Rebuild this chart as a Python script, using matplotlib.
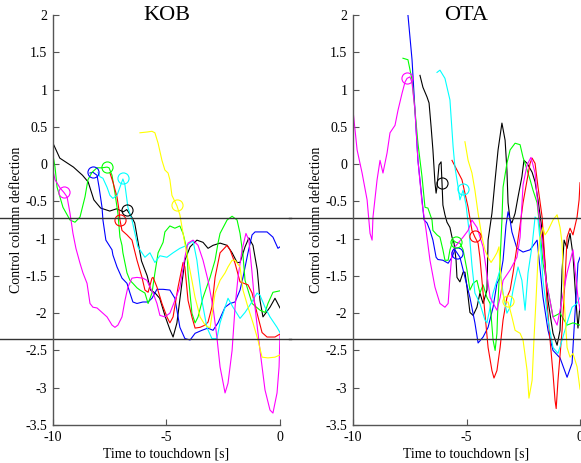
import matplotlib
matplotlib.use('Agg')
import matplotlib.pyplot as plt

plt.rcParams['font.family'] = ['Liberation Serif', 'DejaVu Serif']
plt.rcParams['axes.unicode_minus'] = False

# colour order of the runs
run_colors = ['#000000', '#0000ff', '#00ff00', '#ff0000', '#00ffff', '#ff00ff', '#ffff00']

# ---- KOB runs: (time to touchdown [s], deflection)
kob_black = [(-10, 0.28), (-9.7, 0.08), (-9.4, 0.02), (-9.1, -0.04), (-8.7, -0.15), (-8.45, -0.24),
             (-8.2, -0.48), (-7.9, -0.59), (-7.5, -0.63), (-7.2, -0.6), (-6.9, -0.64), (-6.75, -0.61),
             (-6.55, -0.7), (-6.4, -0.79), (-6.25, -1.05), (-6.1, -1.3), (-5.85, -1.5), (-5.7, -1.69),
             (-5.5, -1.73), (-5.3, -1.8), (-5.05, -2.05), (-4.85, -2.22), (-4.71, -2.32), (-4.54, -2.13),
             (-4.4, -1.79), (-4.19, -1.29), (-3.96, -1.11), (-3.66, -1.02), (-3.39, -1.05), (-3.17, -1.13),
             (-2.95, -1.09), (-2.64, -1.06), (-2.33, -1.09), (-2.11, -1.19), (-1.89, -1.32), (-1.76, -1.32),
             (-1.54, -1.11), (-1.37, -0.99), (-1.19, -1.09), (-1.0, -1.42), (-0.88, -1.83), (-0.75, -2.05),
             (-0.44, -1.92), (-0.22, -1.8), (0, -1.93)]
kob_blue = [(-8.37, -0.12), (-8.24, -0.11), (-8.06, -0.15), (-7.97, -0.31), (-7.84, -0.58), (-7.8, -0.75),
            (-7.67, -1.02), (-7.4, -1.15), (-7.36, -1.22), (-7.18, -1.38), (-6.96, -1.53), (-6.74, -1.6),
            (-6.61, -1.73), (-6.48, -1.85), (-6.3, -1.87), (-6.04, -1.85), (-5.81, -1.85), (-5.64, -1.8),
            (-5.42, -1.68), (-5.15, -1.68), (-4.85, -1.69), (-4.63, -1.8), (-4.54, -1.96), (-4.41, -2.19),
            (-4.19, -2.34), (-3.96, -2.36), (-3.74, -2.27), (-3.44, -2.23), (-3.17, -2.2), (-2.95, -2.23),
            (-2.73, -2.13), (-2.42, -1.92), (-2.2, -1.87), (-1.98, -1.85), (-1.76, -1.69), (-1.63, -1.52),
            (-1.41, -1.19), (-1.23, -0.95), (-1.1, -0.91), (-0.57, -0.91), (-0.31, -0.98), (-0.09, -1.13),
            (0, -1.11)]
kob_green = [(-10, 0.12), (-9.91, -0.04), (-9.82, -0.31), (-9.56, -0.58), (-9.25, -0.75), (-9.03, -0.78),
             (-8.81, -0.71), (-8.59, -0.44), (-8.46, -0.21), (-8.28, -0.11), (-8.06, -0.05), (-7.84, -0.05),
             (-7.62, -0.04), (-7.53, -0.05), (-7.4, -0.15), (-7.27, -0.39), (-7.14, -0.66), (-7.05, -0.98),
             (-6.96, -1.09), (-6.92, -1.19), (-6.74, -1.46), (-6.61, -1.56), (-6.48, -1.6), (-6.3, -1.66),
             (-6.17, -1.69), (-5.95, -1.73), (-5.81, -1.87), (-5.64, -1.73), (-5.51, -1.46), (-5.37, -1.19),
             (-5.15, -1.05), (-5.07, -0.91), (-4.85, -0.83), (-4.63, -0.86), (-4.41, -0.83), (-4.27, -0.93),
             (-4.1, -1.15), (-4.05, -1.46), (-3.88, -2.0), (-3.74, -2.13), (-3.61, -2.05), (-3.39, -1.79),
             (-3.08, -1.52), (-2.86, -1.29), (-2.73, -1.06), (-2.64, -0.93), (-2.33, -0.75), (-2.11, -0.7),
             (-1.89, -0.75), (-1.76, -0.93), (-1.63, -1.22), (-1.54, -1.56), (-1.23, -1.87), (-0.88, -1.96),
             (-0.66, -1.99), (-0.53, -1.87), (-0.31, -1.72), (0, -1.7)]
kob_red = [(-7.49, -0.12), (-7.36, -0.24), (-7.18, -0.44), (-7.09, -0.62), (-7.05, -0.75), (-6.96, -0.89),
           (-6.74, -0.95), (-6.52, -1.02), (-6.3, -1.29), (-6.08, -1.52), (-5.95, -1.69), (-5.81, -1.72),
           (-5.64, -1.53), (-5.59, -1.52), (-5.42, -1.65), (-5.2, -1.87), (-4.98, -2.05), (-4.85, -2.13),
           (-4.71, -2.05), (-4.49, -1.65), (-4.27, -1.32), (-4.19, -1.38), (-4.05, -1.83), (-3.88, -2.05),
           (-3.74, -2.2), (-3.52, -2.19), (-3.3, -2.16), (-3.17, -2.12), (-3.0, -1.92), (-2.86, -1.52),
           (-2.64, -1.19), (-2.33, -1.09), (-2.2, -1.15), (-1.98, -1.33), (-1.76, -1.58), (-1.41, -1.62),
           (-1.23, -1.73), (-1.01, -2.0), (-0.79, -2.26), (-0.57, -2.32), (-0.22, -2.32), (0, -2.28)]
kob_cyan = [(-8.02, -0.11), (-7.93, -0.17), (-7.8, -0.19), (-7.62, -0.31), (-7.49, -0.42), (-7.36, -0.46),
            (-7.18, -0.42), (-7.05, -0.31), (-6.92, -0.2), (-6.83, -0.28), (-6.7, -0.58), (-6.52, -0.75),
            (-6.39, -0.93), (-6.26, -1.11), (-6.17, -1.15), (-5.95, -1.25), (-5.73, -1.19), (-5.51, -1.32),
            (-5.29, -1.23), (-4.98, -1.25), (-4.71, -1.19), (-4.41, -1.13), (-4.1, -1.09), (-3.83, -1.03),
            (-3.66, -1.29), (-3.44, -1.83), (-3.22, -2.19), (-3.0, -2.34), (-2.78, -2.34), (-2.64, -2.13),
            (-2.42, -1.92), (-2.29, -1.8), (-2.07, -1.92), (-1.76, -2.07), (-1.54, -1.99), (-1.32, -1.89),
            (-1.01, -1.73), (-0.88, -1.76), (-0.66, -1.92), (-0.44, -2.05), (-0.13, -2.19), (0, -2.26)]
kob_magenta = [(-10, -0.09), (-9.91, -0.21), (-9.69, -0.32), (-9.52, -0.38), (-9.38, -0.44), (-9.25, -0.66),
               (-9.12, -0.93), (-8.99, -1.13), (-8.81, -1.33), (-8.68, -1.46), (-8.5, -1.6), (-8.37, -1.87),
               (-8.24, -1.92), (-8.06, -1.93), (-7.84, -1.99), (-7.62, -2.05), (-7.4, -2.16), (-7.27, -2.19),
               (-7.14, -2.16), (-6.96, -2.05), (-6.83, -1.83), (-6.7, -1.65), (-6.52, -1.53), (-6.3, -1.52),
               (-6.04, -1.53), (-5.86, -1.56), (-5.73, -1.65), (-5.59, -1.73), (-5.42, -1.87), (-5.29, -2.03),
               (-5.07, -2.05), (-4.85, -2.0), (-4.63, -1.83), (-4.41, -1.65), (-4.19, -1.25), (-4.05, -1.06),
               (-3.83, -1.02), (-3.61, -1.09), (-3.39, -1.29), (-3.17, -1.56), (-2.95, -1.92), (-2.78, -2.32),
               (-2.64, -2.72), (-2.42, -3.07), (-2.29, -2.94), (-2.11, -2.5), (-1.98, -1.92), (-1.85, -1.52),
               (-1.67, -1.15), (-1.5, -0.93), (-1.37, -1.02), (-1.23, -1.46), (-1.1, -1.92), (-0.88, -2.5),
               (-0.66, -3.03), (-0.44, -3.3), (-0.31, -3.34), (-0.13, -3.07), (-0.04, -2.72), (0, -2.3)]
kob_yellow = [(-6.17, 0.42), (-5.86, 0.43), (-5.64, 0.44), (-5.51, 0.42), (-5.37, 0.28), (-5.2, 0.05),
              (-5.07, -0.08), (-4.93, -0.12), (-4.85, -0.21), (-4.76, -0.42), (-4.54, -0.56), (-4.41, -0.68),
              (-4.27, -0.93), (-4.14, -1.15), (-4.05, -1.29), (-3.88, -1.56), (-3.74, -1.79), (-3.52, -2.05),
              (-3.3, -2.16), (-3.08, -2.2), (-2.86, -1.73), (-2.64, -1.56), (-2.42, -1.46), (-2.29, -1.38),
              (-2.11, -1.29), (-1.98, -1.29), (-1.76, -1.38), (-1.63, -1.69), (-1.41, -1.92), (-1.19, -2.13),
              (-0.97, -2.36), (-0.79, -2.59), (-0.53, -2.6), (-0.22, -2.59), (0, -2.56)]
kob_circle_t = [-6.75, -8.24, -7.62, -7.05, -6.92, -9.52, -4.54]
kob_circle_v = [-0.61, -0.11, -0.04, -0.75, -0.19, -0.37, -0.55]

# ---- OTA runs
ota_black = [(-7.05, 1.19), (-6.92, 1.03), (-6.74, 0.9), (-6.65, 0.82), (-6.56, 0.5), (-6.48, 0.19),
             (-6.39, -0.25), (-6.34, -0.39), (-6.3, -0.31), (-6.21, -0.01), (-6.12, 0.03), (-6.08, -0.25),
             (-6.04, -0.55), (-5.95, -0.68), (-5.86, -0.78), (-5.73, -0.85), (-5.64, -0.98), (-5.55, -1.06),
             (-5.46, -1.29), (-5.42, -1.52), (-5.29, -1.58), (-5.15, -1.45), (-5.07, -1.45), (-4.98, -1.65),
             (-4.85, -1.99), (-4.71, -2.03), (-4.54, -1.92), (-4.41, -1.73), (-4.27, -1.87), (-4.1, -1.69),
             (-4.05, -1.02), (-3.88, -0.66), (-3.74, -0.21), (-3.61, 0.19), (-3.44, 0.55), (-3.3, 0.32),
             (-3.22, -0.08), (-3.17, -0.52), (-3.08, -0.75), (-3.0, -0.79), (-2.86, -0.66), (-2.73, -0.44),
             (-2.56, -0.17), (-2.47, 0.05), (-2.33, 0.01), (-2.11, -0.11), (-1.98, -0.24), (-1.85, -0.48),
             (-1.67, -0.89), (-1.41, -1.83), (-1.19, -2.27), (-1.01, -2.43), (-0.88, -2.23), (-0.79, -1.42),
             (-0.7, -1.02), (-0.57, -1.13), (-0.44, -0.93), (-0.31, -1.22), (-0.18, -1.83), (-0.09, -2.2),
             (0, -1.89)]
ota_blue = [(-7.58, 2.0), (-7.4, 1.4), (-7.27, 0.72), (-7.14, 0.05), (-6.96, -0.48), (-6.87, -0.75),
            (-6.74, -0.79), (-6.61, -0.89), (-6.48, -1.02), (-6.34, -1.25), (-6.26, -1.28), (-6.04, -1.29),
            (-5.81, -1.33), (-5.64, -1.25), (-5.51, -1.15), (-5.42, -1.19), (-5.29, -1.25), (-5.15, -1.42),
            (-4.85, -1.79), (-4.63, -2.13), (-4.49, -2.4), (-4.27, -2.32), (-4.05, -2.19), (-3.83, -1.92),
            (-3.66, -1.6), (-3.52, -1.52), (-3.39, -1.29), (-3.26, -0.82), (-3.17, -0.64), (-3.08, -0.75),
            (-3.0, -0.91), (-2.78, -1.13), (-2.51, -1.18), (-2.2, -1.15), (-1.89, -1.02), (-1.63, -1.79),
            (-1.41, -2.23), (-1.19, -2.5), (-0.88, -2.6), (-0.57, -2.86), (-0.35, -2.67), (-0.22, -2.0),
            (-0.09, -1.33), (0, -1.25)]
ota_green = [(-7.8, 1.42), (-7.58, 1.4), (-7.4, 1.13), (-7.27, 0.72), (-7.14, 0.28), (-6.96, -0.17),
             (-6.83, -0.58), (-6.7, -0.59), (-6.52, -0.75), (-6.48, -0.89), (-6.3, -0.95), (-6.17, -0.98),
             (-6.04, -1.15), (-5.95, -1.29), (-5.81, -1.29), (-5.73, -1.15), (-5.59, -1.02), (-5.46, -1.05),
             (-5.29, -1.06), (-5.15, -1.15), (-4.98, -1.42), (-4.85, -1.69), (-4.71, -1.6), (-4.54, -1.56),
             (-4.41, -1.73), (-4.27, -1.62), (-4.1, -1.79), (-3.96, -1.87), (-3.83, -2.36), (-3.74, -2.5),
             (-3.66, -2.27), (-3.61, -1.83), (-3.52, -1.29), (-3.44, -0.75), (-3.39, -0.31), (-3.22, 0.01),
             (-3.08, 0.19), (-2.86, 0.28), (-2.64, 0.26), (-2.51, 0.09), (-2.33, -0.08), (-2.2, -0.21),
             (-2.07, -0.35), (-1.89, -0.52), (-1.76, -0.89), (-1.63, -1.33), (-1.41, -1.69), (-1.19, -2.05),
             (-0.88, -2.0), (-0.57, -2.16), (-0.31, -2.13), (0, -2.16)]
ota_red = [(-5.64, 0.05), (-5.42, -0.08), (-5.2, -0.21), (-5.07, -0.39), (-4.93, -0.58), (-4.76, -0.89),
           (-4.63, -0.98), (-4.49, -1.06), (-4.41, -1.25), (-4.32, -1.56), (-4.19, -2.0), (-4.05, -2.46),
           (-3.88, -2.77), (-3.79, -2.87), (-3.66, -2.77), (-3.52, -2.46), (-3.39, -2.09), (-3.22, -1.79),
           (-3.08, -1.69), (-2.95, -1.46), (-2.78, -1.11), (-2.64, -0.82), (-2.51, -0.52), (-2.33, -0.21),
           (-2.2, 0.01), (-2.11, 0.08), (-1.98, 0.01), (-1.85, -0.31), (-1.67, -0.71), (-1.54, -1.33),
           (-1.45, -1.87), (-1.32, -2.36), (-1.19, -2.81), (-1.1, -3.17), (-1.05, -3.28), (-0.97, -2.9),
           (-0.79, -2.23), (-0.66, -1.56), (-0.57, -0.98), (-0.44, -0.86), (-0.31, -0.95), (-0.13, -0.71),
           (-0.04, -0.48), (0, -0.25)]
ota_cyan = [(-6.3, 1.23), (-6.17, 1.26), (-5.95, 1.15), (-5.73, 0.86), (-5.59, 0.23), (-5.51, -0.04),
            (-5.37, -0.31), (-5.29, -0.48), (-5.15, -0.35), (-5.02, -0.55), (-4.89, -0.89), (-4.76, -1.36),
            (-4.63, -1.73), (-4.41, -1.87), (-4.19, -2.09), (-4.1, -2.13), (-3.96, -1.92), (-3.83, -1.73),
            (-3.52, -1.42), (-3.39, -1.73), (-3.22, -2.0), (-3.08, -1.92), (-2.95, -1.69), (-2.73, -1.38),
            (-2.56, -1.56), (-2.42, -1.96), (-2.29, -1.46), (-2.11, -1.09), (-1.98, -0.71), (-1.85, -0.75),
            (-1.76, -1.02), (-1.63, -1.56), (-1.41, -2.09), (-1.19, -2.46), (-0.97, -2.54), (-0.79, -2.36),
            (-0.57, -2.13), (-0.35, -1.92), (-0.13, -1.87), (0, -1.79)]
ota_magenta = [(-10, 0.72), (-9.82, 0.19), (-9.6, -0.12), (-9.38, -0.48), (-9.25, -0.93), (-9.16, -1.02),
               (-9.12, -0.71), (-8.94, -0.21), (-8.81, 0.05), (-8.68, -0.12), (-8.5, 0.15), (-8.37, 0.42),
               (-8.15, 0.52), (-8.02, 0.72), (-7.84, 0.95), (-7.71, 1.1), (-7.62, 1.15), (-7.49, 1.17),
               (-7.4, 1.09), (-7.27, 0.72), (-7.14, 0.05), (-6.96, -0.52), (-6.78, -0.89), (-6.61, -1.29),
               (-6.39, -1.65), (-6.17, -1.87), (-5.95, -1.92), (-5.81, -1.87), (-5.73, -1.52), (-5.64, -1.19),
               (-5.51, -1.11), (-5.15, -0.98), (-4.93, -0.89), (-4.76, -0.75), (-4.54, -0.85), (-4.27, -1.11),
               (-3.96, -1.79), (-3.66, -1.96), (-3.52, -1.79), (-3.39, -1.56), (-3.08, -1.42), (-2.78, -1.25),
               (-2.64, -0.98), (-2.51, -0.28), (-2.33, -0.01), (-2.16, 0.09), (-1.98, -0.12), (-1.85, -0.58),
               (-1.67, -1.02), (-1.5, -1.56), (-1.32, -1.83), (-1.19, -2.05), (-1.01, -2.16), (-0.88, -1.96),
               (-0.57, -1.46), (-0.31, -1.15), (-0.09, -1.79), (0, -1.96)]
ota_yellow = [(-5.07, 0.3), (-4.93, 0.05), (-4.76, -0.12), (-4.63, -0.35), (-4.49, -0.66), (-4.32, -0.98),
              (-4.19, -1.15), (-4.05, -1.25), (-3.92, -1.32), (-3.79, -1.26), (-3.66, -1.19), (-3.57, -1.11),
              (-3.52, -1.38), (-3.44, -1.69), (-3.3, -1.85), (-3.17, -1.85), (-3.0, -2.05), (-2.86, -2.23),
              (-2.64, -2.27), (-2.51, -2.36), (-2.33, -2.77), (-2.25, -3.14), (-2.11, -2.9), (-2.03, -2.36),
              (-1.94, -1.83), (-1.85, -1.25), (-1.76, -0.98), (-1.63, -0.85), (-1.54, -0.95), (-1.41, -0.89),
              (-1.19, -0.75), (-1.01, -0.68), (-0.88, -0.85), (-0.79, -1.06), (-0.7, -1.83), (-0.57, -2.46),
              (-0.44, -2.59), (-0.31, -2.54), (-0.13, -2.72), (0, -3.02)]
ota_circle_t = [-6.08, -5.42, -5.46, -4.63, -5.15, -7.62, -3.17]
ota_circle_v = [-0.25, -1.19, -1.04, -0.97, -0.34, 1.16, -1.84]

# reference levels
limit_levels = [-0.72, -2.35]

panels = [
    ('KOB', [kob_black, kob_blue, kob_green, kob_red, kob_cyan, kob_magenta, kob_yellow],
     kob_circle_t, kob_circle_v, 0.0912, (-12.4, 0.5)),
    ('OTA', [ota_black, ota_blue, ota_green, ota_red, ota_cyan, ota_magenta, ota_yellow],
     ota_circle_t, ota_circle_v, 0.6076, (-12.8, 0.1)),
]

fig = plt.figure(figsize=(5.81, 4.63), dpi=100)

for name, runs, ct, cv, left, hspan in panels:
    ax = fig.add_axes([left, 0.0821, 0.3907, 0.8855])
    for run, col in zip(runs, run_colors):
        t, v = zip(*run)
        ax.plot(t, v, color=col, linewidth=0.8)
    for x, y, col in zip(ct, cv, run_colors):
        ax.plot(x, y, 'o', markersize=8, markerfacecolor='none', markeredgecolor=col, markeredgewidth=0.8)
    for lvl in limit_levels:
        ax.plot(hspan, [lvl, lvl], color='#333333', linewidth=1.0, clip_on=False)

    ax.set_xlim(-10, 0)
    ax.set_ylim(-3.5, 2)
    ax.set_xticks([-10, -5, 0])
    ax.set_xticklabels(['-10', '-5', '0'])
    yt = [2, 1.5, 1, 0.5, 0, -0.5, -1, -1.5, -2, -2.5, -3, -3.5]
    ax.set_yticks(yt)
    ax.set_yticklabels(['%g' % y for y in yt])
    ax.spines['top'].set_visible(False)
    ax.spines['right'].set_visible(False)
    for s in ('left', 'bottom'):
        ax.spines[s].set_color('#555555')
        ax.spines[s].set_linewidth(1.0)
    ax.tick_params(direction='in', length=4, width=0.8, color='#555555', labelsize=10, pad=4)
    ax.set_xlabel('Time to touchdown [s]', fontsize=10, labelpad=3)
    ax.set_ylabel('Control column deflection', fontsize=10, labelpad=2)
    ax.text(0.5, 1.0, name, transform=ax.transAxes, ha='center', va='center', fontsize=16)

fig.savefig('out.png', dpi=100)
